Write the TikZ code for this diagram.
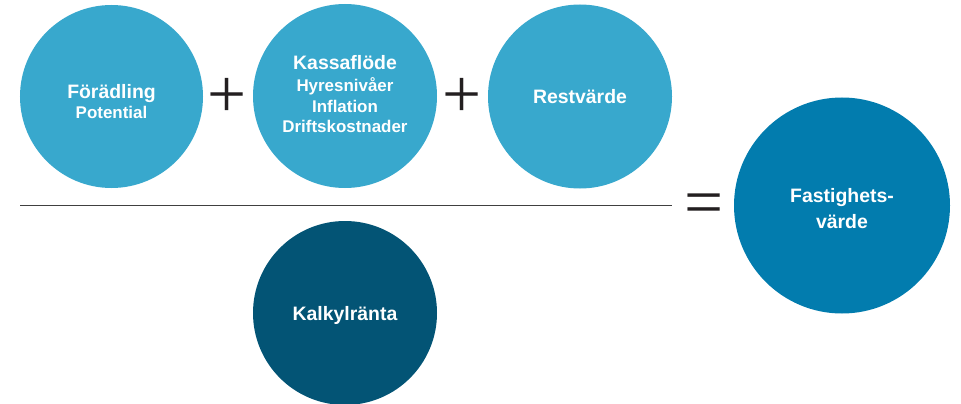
\documentclass[tikz,border=0pt]{standalone}
\usepackage{fontspec}
\setsansfont{Liberation Sans}
\newfontfamily\signfont{Liberation Serif}
\usepackage{tikz}
\usetikzlibrary{positioning}
\definecolor{lightblue}{RGB}{56,168,205}
\definecolor{midblue}{RGB}{2,124,174}
\definecolor{darkblue}{RGB}{3,84,117}
\definecolor{signgray}{RGB}{35,31,32}
\newcommand{\headfont}{\fontsize{19.5}{26}\selectfont}
\newcommand{\subfont}{\fontsize{17}{20.5}\selectfont}

\begin{document}
\begin{tikzpicture}[x=1bp, y=1bp,
    bubble/.style={circle, minimum size=184bp, inner sep=0pt},
    caption/.style={text=white, align=center, inner sep=0pt, font=\sffamily\bfseries\subfont},
    sign/.style={text=signgray, inner sep=0pt, font=\signfont\fontsize{69.5}{70}\selectfont}]

    \useasboundingbox (0,0) rectangle (961,403);

    % 1. Numerator: the three circles on top
    \node[bubble, fill=lightblue, minimum size=183bp] (foradling) at (111.5,306.5) {};
    \node[bubble, fill=lightblue] (kassaflode) at (345,307) {};
    \node[bubble, fill=lightblue] (restvarde) at (580,306.5) {};
    \node[caption] (foradling-txt) at ([yshift=-5]foradling.center) {{\headfont Förädling}\\Potential};
    \node[caption] (kassaflode-txt) at ([yshift=2]kassaflode.center) {{\headfont Kassaflöde}\\[2bp]Hyresnivåer\\Inflation\\Driftskostnader};
    \node[caption, font=\sffamily\bfseries\headfont] (restvarde-txt) at (restvarde.center) {Restvärde};

    % 2. Plus signs between them
    \node[sign] (plusA) at (227.5,305.5) {+};
    \node[sign] (plusB) at (462.5,305.5) {+};

    % 3. Fraction bar
    \coordinate (barL) at (20,197.5);
    \coordinate (barR) at (672,197.5);
    \draw[line width=1.3bp, black!75] (barL) -- (barR);

    % 4. Denominator
    \node[bubble, fill=darkblue] (kalkylranta) at (345,90) {};
    \node[caption, font=\sffamily\bfseries\headfont] (kalkylranta-txt) at ([yshift=-2]kalkylranta.center) {Kalkylränta};

    % 5. Result
    \node[sign] (equal) at (704.5,193) {=};
    \node[bubble, fill=midblue, minimum size=216bp] (fastighetsvarde) at (842,197.5) {};
    \node[caption, font=\sffamily\bfseries\headfont] (fastighetsvarde-txt) at ([yshift=-3]fastighetsvarde.center) {Fastighets-\\värde};

\end{tikzpicture}
\end{document}
